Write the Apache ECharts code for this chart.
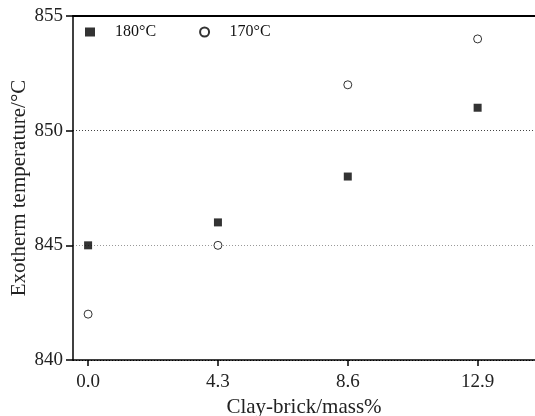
<!DOCTYPE html>
<html><head><meta charset="utf-8">
<script src="https://cdn.jsdelivr.net/npm/echarts@6/dist/echarts.min.js"></script>
<style>html,body{margin:0;padding:0;background:#fff}#c{width:535px;height:416px}</style>
</head><body><div id="c"></div>
<script>
const xCats = [0.0, 4.3, 8.6, 12.9];
const xTickLabels = ['0.0', '4.3', '8.6', '12.9'];
const s180 = [845, 846, 848, 851];
const s170 = [842, 845, 852, 854];
const yTicks = [840, 845, 850, 855];

const F = 'Liberation Serif, Times New Roman, serif';
const chart = echarts.init(document.getElementById('c'));
chart.setOption({
  animation: false,
  backgroundColor: '#fff',
  grid: {left: 73, right: 0, top: 16, bottom: 56, containLabel: false, outerBoundsMode: 'none'},
  legend: {
    left: 80, top: 19, itemWidth: 10, itemHeight: 9, itemGap: 43,
    textStyle: {fontFamily: F, fontSize: 16, color: '#111', padding: [0, 0, 0, 15]},
    data: [{name: '180°C'}, {name: '170°C', itemStyle: {borderWidth: 2}}]
  },
  xAxis: [{
    type: 'value', min: -0.5, max: 14.8,
    customValues: xCats,
    axisLine: {show: true, onZero: false, lineStyle: {color: '#000', width: 1.5}},
    axisTick: {show: true, length: 6, inside: false, lineStyle: {color: '#000', width: 1.5}, customValues: xCats},
    axisLabel: {fontFamily: F, fontSize: 19, color: '#222', margin: 13,
      customValues: xCats,
      formatter: v => xTickLabels[xCats.indexOf(v)] ?? ''},
    splitLine: {show: false},
    name: 'Clay-brick/mass%', nameLocation: 'middle', nameGap: 35,
    nameTextStyle: {fontFamily: F, fontSize: 21, color: '#222'}
  }, {
    type: 'value', position: 'top', min: -0.5, max: 14.8,
    axisLine: {show: true, onZero: false, lineStyle: {color: '#000', width: 2}},
    axisTick: {show: false}, axisLabel: {show: false}, splitLine: {show: false}
  }],
  yAxis: {
    type: 'value', min: 840, max: 855, interval: 5,
    axisLine: {show: true, onZero: false, lineStyle: {color: '#000', width: 1.5}},
    axisTick: {show: true, length: 7, lineStyle: {color: '#000', width: 1.5}},
    axisLabel: {fontFamily: F, fontSize: 19, color: '#222', margin: 10,
      formatter: v => yTicks.includes(v) ? String(v) : ''},
    splitLine: {show: true, lineStyle: {color: ['#000', '#999', '#444', '#000'], type: [1, 2], width: 1}},
    name: 'Exotherm temperature/°C', nameLocation: 'middle', nameGap: 43, nameMoveOverlap: false,
    nameTextStyle: {fontFamily: F, fontSize: 21, color: '#222'}
  },
  series: [{
    name: '180°C', type: 'scatter', symbol: 'rect', symbolSize: 8,
    itemStyle: {color: '#000'},
    data: xCats.map((x, i) => [x, s180[i]])
  }, {
    name: '170°C', type: 'scatter', symbol: 'circle', symbolSize: 8,
    itemStyle: {color: '#fff', borderColor: '#000', borderWidth: 1},
    data: xCats.map((x, i) => [x, s170[i]])
  }]
});
</script></body></html>
